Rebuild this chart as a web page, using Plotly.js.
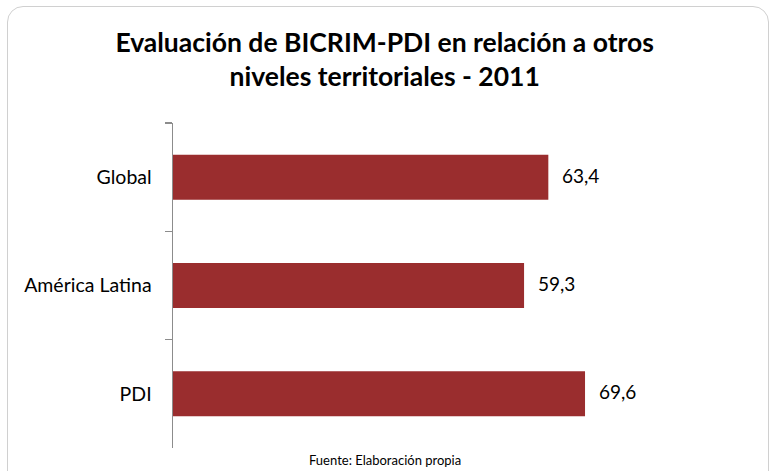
<!DOCTYPE html>
<html>
<head>
<meta charset="utf-8">
<script src="https://cdn.plot.ly/plotly-3.0.1.min.js"></script>
<style>
html,body{margin:0;padding:0;background:#fff;}
#chart{width:774px;height:471px;}
#frame{position:absolute;left:7px;top:6px;width:760px;height:480px;border:1.5px solid #d0d0d0;border-radius:16px;pointer-events:none;}
</style>
</head>
<body>
<div id="chart"></div>
<div id="frame"></div>
<script>
const categories = ['Global', 'América Latina', 'PDI'];
const values = [63.4, 59.3, 69.6];
const titleText = 'Evaluación de BICRIM-PDI en relación a otros<br>niveles territoriales - 2011';
const sourceText = 'Fuente: Elaboración propia';

const FONT = 'Lato, "Open Sans", sans-serif';

const trace = {
  type: 'bar',
  orientation: 'h',
  x: values,
  y: categories,
  marker: {color: '#9a2d2e'},
  hoverinfo: 'none'
};

const annotations = values.map((v, i) => ({
  x: v, y: categories[i], xref: 'x', yref: 'y',
  text: v.toFixed(1).replace('.', ','),
  showarrow: false, xanchor: 'left', yanchor: 'middle', xshift: 12, yshift: 2,
  font: {family: FONT, size: 19, color: '#000'}
}));
annotations.push({
  x: 0.358, y: 0, xref: 'paper', yref: 'paper', yshift: -12,
  text: sourceText, showarrow: false, xanchor: 'center', yanchor: 'middle',
  font: {family: FONT, size: 13, color: '#000'}
});

const layout = {
  width: 774, height: 471,
  margin: {l: 173, r: 9, t: 123, b: 23},
  paper_bgcolor: '#fff', plot_bgcolor: '#fff',
  title: {
    text: titleText,
    x: 0.497, xanchor: 'center', xref: 'container',
    y: 0.89, yanchor: 'top', yref: 'container',
    font: {family: FONT, size: 26.5, color: '#000', weight: 'bold'}
  },
  xaxis: {range: [0, 100], visible: false, fixedrange: true},
  yaxis: {
    autorange: 'reversed',
    showline: true, linecolor: '#8c8c8c', linewidth: 1.5,
    ticks: 'outside', ticklen: 7, tickcolor: '#8c8c8c', tickwidth: 1.5,
    tickson: 'boundaries', showgrid: false, zeroline: false,
    ticklabelstandoff: 16,
    tickfont: {family: FONT, size: 19.5, color: '#000'}
  },
  bargap: 0.585,
  showlegend: false,
  annotations: annotations
};

Plotly.newPlot('chart', [trace], layout, {displayModeBar: false, staticPlot: true});
</script>
</body>
</html>
